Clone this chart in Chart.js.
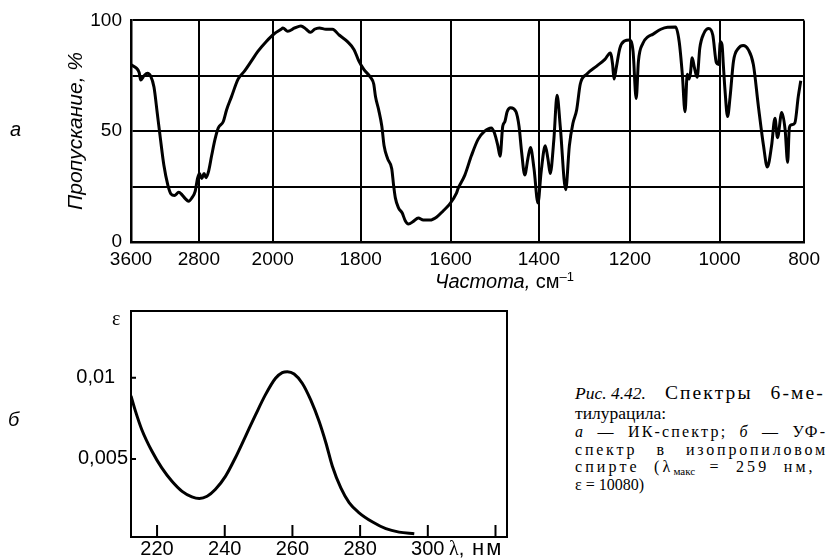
<!DOCTYPE html>
<html>
<head>
<meta charset="utf-8">
<script src="https://cdn.jsdelivr.net/npm/chart.js@4.4.1/dist/chart.umd.min.js"></script>
<style>
  body { margin: 0; width: 826px; height: 560px; background: #fff; position: relative; overflow: hidden;
         font-family: "Liberation Sans", Arial, sans-serif; color: #000; }
  canvas { position: absolute; }
  #irChart { left: 0; top: 0; }
  #uvChart { left: 0; top: 295px; }
  .lbl { position: absolute; white-space: nowrap; line-height: 20px; font-size: 20px; }
  .it { font-style: italic; }
  .serif { font-family: "Liberation Serif", "Times New Roman", serif; }
  #caption { position: absolute; left: 575px; top: 383px; width: 250px; font-family: "Liberation Serif", serif; }
  #caption .ln { font-size: 17.5px; line-height: 20px; white-space: nowrap; }
  #caption .sm { font-size: 16px; line-height: 17.5px; }
  #caption .split { display: flex; justify-content: space-between; align-items: baseline; }
  sub { font-size: 11px; vertical-align: -3px; line-height: 0; letter-spacing: 0; }
</style>
</head>
<body>
<canvas id="irChart" width="826" height="290"></canvas>
<canvas id="uvChart" width="560" height="265"></canvas>

<div class="lbl it" style="left:10px; top:119px;">а</div>
<div class="lbl it" style="left:8px; top:409px;">б</div>
<div class="lbl it" style="left:75px; top:131px; font-size:21px; transform: translate(-50%,-50%) rotate(-90deg);">Пропускание, %</div>
<div class="lbl" style="left:435px; top:271px;"><span class="it">Частота,</span> см<sup style="font-size:13px; vertical-align:7px; line-height:0;">–1</sup></div>
<div class="lbl serif" style="left:112px; top:308px;">ε</div>
<div class="lbl" style="left:449px; top:538px;"><span class="serif">λ</span>,</div>
<div class="lbl" style="left:472px; top:538px; font-size:22px; letter-spacing:2px;">нм</div>

<div id="caption">
  <div class="ln split"><i>Рис. 4.42.</i><span class="j" data-w="0.3" data-t="158" style="font-size:19.5px;">Спектры 6-ме-</span></div>
  <div class="ln">тилурацила:</div>
  <div class="ln sm"><span class="j" data-w="0.4" data-t="250"><i>а</i> — ИК-спектр; <i>б</i> — УФ-</span></div>
  <div class="ln sm"><span class="j" data-w="0.3" data-t="250">спектр в изопропиловом</span></div>
  <div class="ln sm"><span class="j" data-w="0.3" data-t="250">спирте (λ<sub>макс</sub> = 259 нм,</span></div>
  <div class="ln sm">ε = 10080)</div>
</div>

<script>
// === Данные ИК-спектра (волновое число, см-1 / пропускание, %) ===
const irWave = [
  3600, 3544, 3504, 3486, 3446, 3407, 3369, 3329, 3290, 3252, 3212, 3166, 3127, 3088, 3037, 2998, 2960, 2920, 2882, 2843,
  2815, 2793, 2768, 2743, 2722, 2696, 2661, 2625, 2589, 2535, 2500, 2447, 2375, 2304, 2232, 2161, 2072, 1996, 1981, 1977,
  1966, 1950, 1936, 1924, 1914, 1905, 1894, 1879, 1864, 1849, 1830, 1815, 1804, 1793, 1778, 1771, 1767, 1760, 1753, 1748,
  1740, 1731, 1727, 1723, 1716, 1708, 1701, 1694, 1683, 1672, 1661, 1646, 1631, 1617, 1602, 1587, 1583, 1568, 1553, 1538,
  1523, 1508, 1501, 1493, 1488, 1482, 1477, 1472, 1464, 1452, 1445, 1439, 1432, 1425, 1419, 1411, 1402, 1395, 1386, 1380,
  1375, 1367, 1360, 1353, 1341, 1333, 1325, 1317, 1309, 1295, 1273, 1255, 1243, 1238, 1235, 1230, 1222, 1212, 1201, 1193,
  1186, 1181, 1171, 1160, 1149, 1131, 1116, 1098, 1090, 1083, 1077, 1072, 1068, 1065, 1061, 1056, 1050, 1044, 1035, 1024,
  1015, 1007, 1002, 998, 994, 991, 987, 981, 975, 967, 955, 944, 932, 920, 908, 896, 887, 877, 869, 863,
  853, 845, 839, 835, 830, 822, 814, 808
];
const irTrans = [
  80, 78.7, 76.5, 73.1, 75, 76.2, 75, 69.9, 58.1, 46.3, 34.6, 25.8, 21.6, 21, 22.4, 21.3, 19.6, 18.4, 19.9, 22.8,
  28.7, 30.9, 28.7, 30.9, 29, 31.6, 39, 46.3, 51.5, 54.4, 59.6, 65.5, 73.5, 77.2, 81.6, 86, 90.4, 94.1, 96, 96.6,
  95.1, 96.6, 97.5, 96, 94.6, 96, 96.6, 96, 96, 93.4, 90.4, 86.8, 81.6, 77.9, 74.3, 71.3, 65.5, 59.6, 52.2, 43.4,
  37.5, 33.1, 25.8, 19.9, 15.4, 13.2, 9.6, 8.1, 9.3, 10.8, 9.9, 9.9, 11.3, 14, 17.2, 22.1, 24.3, 30.2, 39, 46.3,
  50, 51.5, 49.3, 43.4, 38.7, 52.2, 54.4, 58.8, 60.6, 58.8, 52.2, 40.4, 30.2, 37.5, 42.7, 33.1, 17.6, 31.6, 43.4, 37.5,
  30.9, 46.3, 66.2, 52.2, 23.6, 43.4, 53.7, 59.6, 71.3, 75.7, 79.4, 82.4, 85.3, 80.1, 73.5, 78.7, 87.5, 90.7, 91.2, 86,
  64.7, 81.6, 89.7, 92.6, 93.7, 96, 96.9, 97, 90.4, 75.7, 58.8, 75.7, 73.5, 76, 83.1, 78.7, 74.3, 87.5, 94.1, 96.3,
  93.4, 80.9, 80.1, 90.4, 88.9, 80.1, 68.4, 56.6, 65.5, 81.6, 87.5, 88.7, 86.8, 80.1, 61, 43.4, 33.8, 43.4, 55.9, 47.1,
  58.4, 50.7, 36, 51.5, 52.9, 53.7, 65.5, 72.8
];
// шкала частот неравномерная: подписи и их места на оси
const irTicks = [3600, 2800, 2000, 1800, 1600, 1400, 1200, 1000, 800];
const irTickPos = [0, 68.5, 143.2, 232, 323, 412, 504, 594.5, 680];
const irYTicks = [0, 25, 50, 75, 100];
const irYLabels = ["0", "", "50", "", "100"];

// === Данные УФ-спектра ===
const uvWave = [212.3, 213.5, 215.5, 218.5, 221.4, 224.4, 227.4, 230.3, 232.5, 234.8, 237.2, 240.2, 243.1, 246.1, 249.1, 252,
  255, 257, 258.5, 260.5, 262.9, 265.4, 267.9, 269.9, 271.8, 274.3, 276.8, 279.7, 283.7, 287.6, 291.5, 296];
const uvEps = [0.00888, 0.00802, 0.0068, 0.00547, 0.00445, 0.00363, 0.00301, 0.00267, 0.00257, 0.00271, 0.00312, 0.00393,
  0.00506, 0.00638, 0.00771, 0.00894, 0.00996, 0.01031, 0.01037, 0.01023, 0.00966, 0.00863, 0.0073, 0.00598, 0.00455,
  0.00322, 0.0023, 0.00169, 0.00112, 0.00071, 0.0005, 0.0004];
const uvTicks = [220, 240, 260, 280, 300, 320];
const uvTickLabels = ["220", "240", "260", "280", "300", ""];
const uvYTicks = [0.005, 0.01];
const uvYLabels = ["0,005", "0,01\u2007\u200A"];

Chart.defaults.font.family = '"Liberation Sans", Arial, sans-serif';
Chart.defaults.font.size = 19;
Chart.defaults.color = "#000";

// волновое число -> положение на оси (кусочно-линейно между подписями)
function irPos(w) {
  for (let i = 0; i < irTicks.length - 1; i++) {
    const a = irTicks[i], b = irTicks[i + 1];
    if (w <= a && w >= b) {
      return irTickPos[i] + (a - w) / (a - b) * (irTickPos[i + 1] - irTickPos[i]);
    }
  }
  return w > irTicks[0] ? 0 : irTickPos[irTickPos.length - 1];
}

// === ИК-спектр ===
new Chart(document.getElementById("irChart"), {
  type: "line",
  data: {
    datasets: [{
      data: irWave.map((w, i) => ({ x: irPos(w), y: irTrans[i] })),
      borderColor: "#000",
      borderWidth: 3,
      pointRadius: 0,
      cubicInterpolationMode: "monotone",
      fill: false
    }]
  },
  options: {
    responsive: false,
    animation: false,
    devicePixelRatio: 1,
    layout: { padding: { top: 15, right: 15, left: 0, bottom: 0 } },
    plugins: { legend: { display: false }, tooltip: { enabled: false } },
    scales: {
      x: {
        type: "linear",
        min: 0,
        max: irTickPos[irTickPos.length - 1],
        afterBuildTicks: s => { s.ticks = irTickPos.map(v => ({ value: v })); },
        afterFit: s => { s.height = 48; },
        ticks: { autoSkip: false, maxRotation: 0, padding: 6, callback: (v, i) => irTicks[i] },
        grid: { color: "#000", lineWidth: 2, drawTicks: false },
        border: { color: "#000", width: 2.5 }
      },
      y: {
        min: 0,
        max: 100,
        afterBuildTicks: s => { s.ticks = irYTicks.map(v => ({ value: v })); },
        afterFit: s => { s.width = 131; },
        ticks: { padding: 9, callback: (v, i) => irYLabels[i] },
        grid: { color: "#000", lineWidth: 2, drawTicks: false },
        border: { color: "#000", width: 2.5 }
      }
    }
  }
});

// рамка и внутренние засечки для УФ-графика
const innerTicks = {
  id: "innerTicks",
  afterDraw(chart) {
    const { ctx, chartArea: a, scales: { x, y } } = chart;
    ctx.save();
    ctx.strokeStyle = "#000";
    ctx.lineWidth = 2;
    ctx.strokeRect(a.left, a.top, a.right - a.left, a.bottom - a.top);
    ctx.beginPath();
    x.ticks.forEach(t => {
      const px = x.getPixelForValue(t.value);
      ctx.moveTo(px, a.bottom);
      ctx.lineTo(px, a.bottom - 12);
    });
    y.ticks.forEach(t => {
      const py = y.getPixelForValue(t.value);
      ctx.moveTo(a.left, py);
      ctx.lineTo(a.left + 5, py);
    });
    ctx.stroke();
    ctx.restore();
  }
};

// === УФ-спектр ===
new Chart(document.getElementById("uvChart"), {
  type: "line",
  data: {
    datasets: [{
      data: uvWave.map((w, i) => ({ x: w, y: uvEps[i] })),
      borderColor: "#000",
      borderWidth: 3,
      pointRadius: 0,
      cubicInterpolationMode: "monotone",
      fill: false
    }]
  },
  options: {
    responsive: false,
    animation: false,
    devicePixelRatio: 1,
    layout: { padding: { top: 16, right: 53, left: 0, bottom: 0 } },
    plugins: { legend: { display: false }, tooltip: { enabled: false } },
    scales: {
      x: {
        type: "linear",
        min: 212.3,
        max: 323.4,
        afterBuildTicks: s => { s.ticks = uvTicks.map(v => ({ value: v })); },
        afterFit: s => { s.height = 23; },
        ticks: { autoSkip: false, maxRotation: 0, padding: 0, font: { size: 20 }, callback: (v, i) => uvTickLabels[i] },
        grid: { display: false, drawTicks: false },
        border: { display: false }
      },
      y: {
        min: 0.0002,
        max: 0.0141,
        afterBuildTicks: s => { s.ticks = uvYTicks.map(v => ({ value: v })); },
        afterFit: s => { s.width = 131; },
        ticks: { padding: 3, font: { size: 20 }, callback: (v, i) => uvYLabels[i] },
        grid: { display: false, drawTicks: false },
        border: { display: false }
      }
    }
  },
  plugins: [innerTicks]
});

// подпись: выключка строк по ширине (часть — в пробелы, часть — в разрядку)
document.querySelectorAll("#caption .j").forEach(el => {
  el.style.display = "inline-block";
  const extra = parseFloat(el.dataset.t) - el.getBoundingClientRect().width;
  const text = el.textContent;
  const spaces = (text.match(/ /g) || []).length;
  const share = parseFloat(el.dataset.w);
  el.style.wordSpacing = (extra * share / spaces) + "px";
  el.style.letterSpacing = (extra * (1 - share) / (text.length - 1)) + "px";
});
</script>
</body>
</html>
